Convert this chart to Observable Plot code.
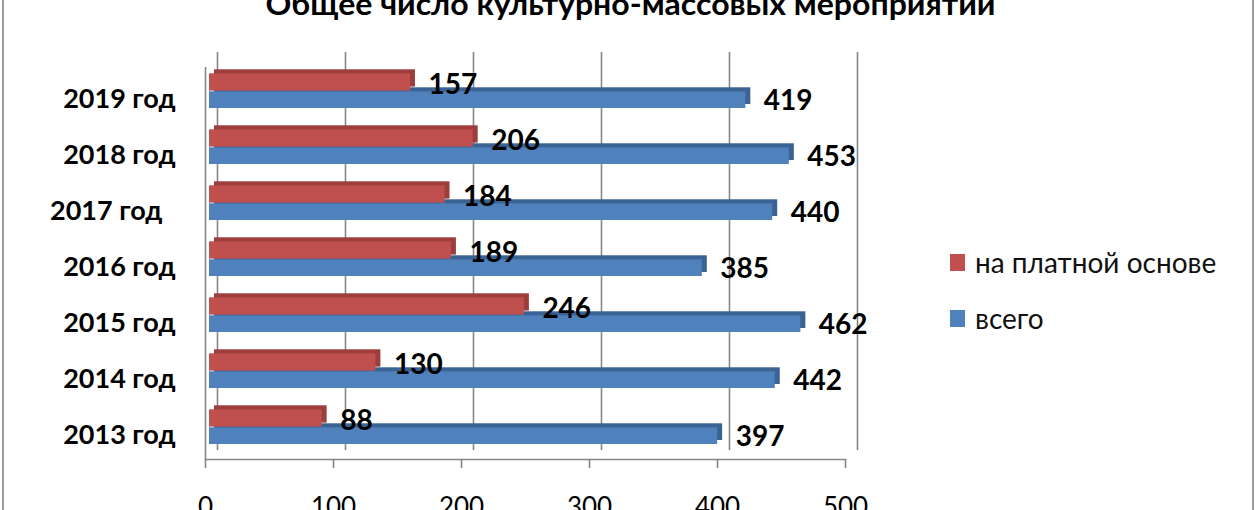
<!DOCTYPE html>
<html><head><meta charset="utf-8">
<script src="https://cdn.jsdelivr.net/npm/d3@7"></script>
<script src="https://cdn.jsdelivr.net/npm/@observablehq/plot@0.6"></script>
<style>
body{margin:0;background:#fff;}
#wrap{position:relative;width:1260px;height:510px;overflow:hidden;font-family:Lato,"Open Sans",sans-serif;background:#fff;}
.border{position:absolute;top:0;width:2px;height:510px;background:#9a9a9a;}
#legend{position:absolute;left:950px;top:243px;}
.item{display:flex;align-items:center;height:38px;margin-bottom:18px;}
.sw{width:15px;height:17px;margin-right:10px;}
.lab{font-size:28px;color:#111;white-space:nowrap;}
</style></head><body>
<div id="wrap"><div id="chart"></div>
<div class="border" style="left:2px"></div><div class="border" style="left:1252px"></div>
<div id="legend"></div></div>
<script>
const title = "Общее число культурно-массовых мероприятий";
const years = ["2019 год","2018 год","2017 год\u00a0\u00a0","2016 год","2015 год","2014 год","2013 год"];
const paid = [157,206,184,189,246,130,88];
const total = [419,453,440,385,462,442,397];
const xTicks = [0,100,200,300,400,500];
const seriesNames = ["на платной основе","всего"];
const colors = ["#C0504D","#4F81BD"];
const depthColors = ["#9E3E3C","#3A6393"];
const gridColor = "#878787";

const rows = years.map((y,i)=>({year:y, paid:paid[i], total:total[i]}));

const chart = Plot.plot({
  width:1260, height:510,
  marginLeft:209, marginRight:411, marginTop:61, marginBottom:53,
  style:{fontFamily:"Lato, 'Open Sans', sans-serif", color:"#000", background:"transparent"},
  x:{domain:[0,500], label:null},
  y:{domain:years, padding:0, label:null},
  marks:[
    Plot.ruleX(xTicks, {x:d=>d, dx:8, insetTop:-9, insetBottom:7, stroke:gridColor, strokeWidth:1.6}),
    Plot.ruleX([0], {x:d=>d, dx:-4, insetTop:6, insetBottom:-2, stroke:gridColor, strokeWidth:1.6}),
    Plot.frame({anchor:"bottom", dx:-4, dy:2, stroke:gridColor, strokeWidth:1.6}),
    Plot.axisX(xTicks, {anchor:"bottom", label:null, tickSize:9, tickPadding:29, dx:-4, dy:2, fontSize:26, stroke:gridColor, strokeWidth:1.6, fill:"#000", tickFormat:d=>String(d)}),
    Plot.axisY({anchor:"left", label:null, tickSize:0, tickPadding:34, dy:8, fontSize:27, fontWeight:"bold", fill:"#000", tickFormat:d=>d}),
    Plot.rectX(rows,{x:"total", y:"year", fill:depthColors[1], dx:5, dy:-4, insetTop:28.3, insetBottom:11}),
    Plot.rectX(rows,{x:"total", y:"year", fill:colors[1], insetTop:28.3, insetBottom:11}),
    Plot.rectX(rows,{x:"paid", y:"year", fill:depthColors[0], dx:5, dy:-4, insetTop:10.3, insetBottom:28.4}),
    Plot.rectX(rows,{x:"paid", y:"year", fill:colors[0], insetTop:10.3, insetBottom:28.4}),
    Plot.text(rows,{x:"paid", y:"year", text:d=>String(d.paid), dx:18, dy:-6, textAnchor:"start", fontSize:28, fontWeight:"bold", fill:"#000"}),
    Plot.text(rows,{x:"total", y:"year", text:d=>String(d.total), dx:18, dy:10, textAnchor:"start", fontSize:28, fontWeight:"bold", fill:"#000"}),
    Plot.text([title],{text:d=>d, frameAnchor:"top", dx:101, dy:-56.6, lineAnchor:"middle", fontSize:30, fontWeight:"bold", fill:"#000"})
  ]
});
document.getElementById("chart").appendChild(chart);
d3.select(chart).selectAll("text").filter(function(){return this.textContent===title;})
  .attr("textLength",730).attr("lengthAdjust","spacingAndGlyphs");

const leg = document.getElementById("legend");
seriesNames.forEach((n,i)=>{
  const it = document.createElement("div"); it.className="item";
  const sw = document.createElement("div"); sw.className="sw"; sw.style.background=colors[i];
  const lb = document.createElement("div"); lb.className="lab"; lb.textContent=n;
  it.appendChild(sw); it.appendChild(lb); leg.appendChild(it);
});
</script></body></html>
